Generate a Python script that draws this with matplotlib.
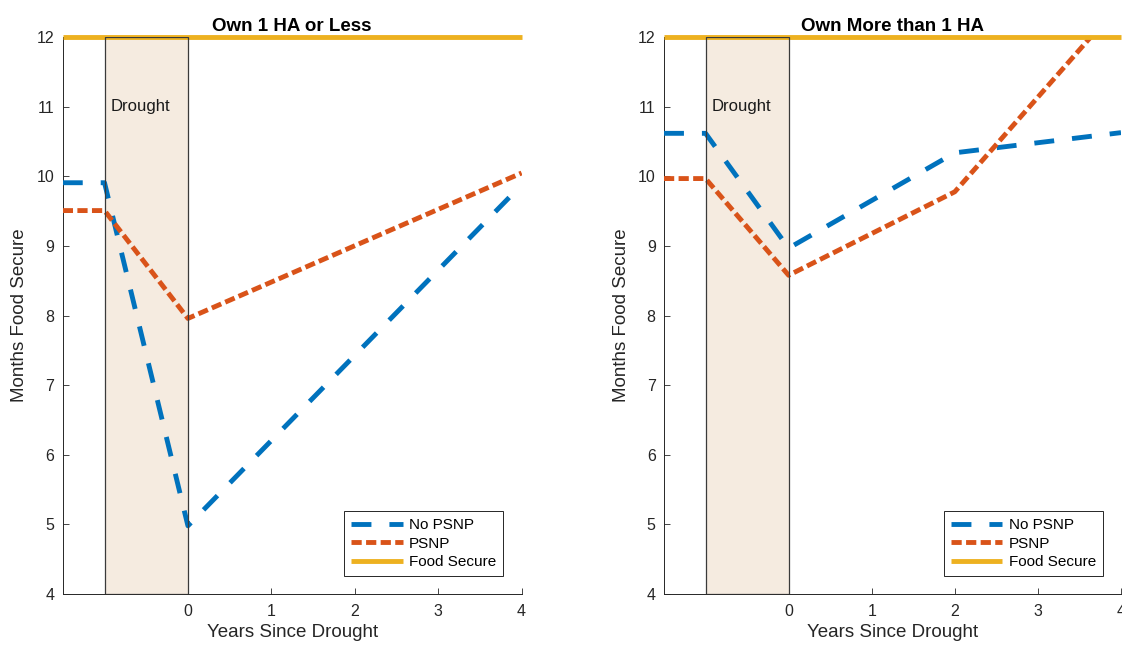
import matplotlib.pyplot as plt

plt.rcParams['font.family'] = ['Liberation Sans', 'DejaVu Sans']

# MATLAB default colours
blue = "#0072BD"
orange = "#D95319"
yellow = "#EDB120"
ink = "#262626"

# data
years_small = [-1.5, -1, 0, 4]
no_psnp_small = [9.91, 9.91, 4.98, 9.88]
psnp_small = [9.51, 9.51, 7.96, 10.05]

years_large = [-1.5, -1, 0, 2, 4]
no_psnp_large = [10.62, 10.62, 8.97, 10.34, 10.63]
psnp_large = [9.97, 9.97, 8.58, 9.78, 12.5]

food_secure = 12
drought_start, drought_end = -1, 0
x_range = [-1.5, 4]
titles = ["Own 1 HA or Less", "Own More than 1 HA"]


def draw(ax, years, no_psnp, psnp, title):
    ax.plot(years, no_psnp, color=blue, lw=3.5, dashes=(4.1, 3.7),
            dash_capstyle="butt", label="No PSNP", zorder=3)
    ax.plot(years, psnp, color=orange, lw=3.5, dashes=(2.1, 0.9),
            dash_capstyle="butt", label="PSNP", zorder=3)
    ax.plot(x_range, [food_secure, food_secure], color=yellow, lw=3.5,
            solid_capstyle="butt", clip_on=False, label="Food Secure",
            zorder=4)

    # shaded drought year: face behind the lines, outline above them
    ax.axvspan(drought_start, drought_end, facecolor="#F5EBE0",
               edgecolor="none", zorder=1)
    ax.axvspan(drought_start, drought_end, facecolor="none",
               edgecolor="#3a3a3a", lw=0.9, zorder=5)
    ax.text(drought_start + 0.07, 11, "Drought", fontsize=12, color="#1a1a1a",
            ha="left", va="center", zorder=6)

    ax.set_xlim(x_range)
    ax.set_ylim(4, 12)
    ax.set_xticks([0, 1, 2, 3, 4])
    ax.set_yticks(range(4, 13))

    for side in ("top", "right"):
        ax.spines[side].set_visible(False)
    for side in ("left", "bottom"):
        ax.spines[side].set_color(ink)
        ax.spines[side].set_linewidth(0.7)
    ax.tick_params(direction="in", length=4, width=0.6, color=ink,
                   labelcolor=ink, labelsize=11.5)
    ax.tick_params(axis="x", pad=7)
    ax.tick_params(axis="y", pad=6)

    ax.set_title(title, fontsize=13.5, fontweight="bold", pad=4.5)
    ax.set_xlabel("Years Since Drought", fontsize=13.5, color=ink, labelpad=4)
    ax.set_ylabel("Months Food Secure", fontsize=13.5, color=ink, labelpad=6)

    leg = ax.legend(loc="lower right", bbox_to_anchor=(0.96, 0.032),
                    borderaxespad=0, fontsize=11, fancybox=False,
                    framealpha=1, edgecolor=ink, handlelength=3.4,
                    handletextpad=0.4, labelspacing=0.3, borderpad=0.45)
    leg.get_frame().set_linewidth(0.7)
    leg.set_zorder(10)


fig = plt.figure(figsize=(11.22, 6.46), dpi=100)
ax1 = fig.add_axes([62.8 / 1122, 52 / 646, 458.8 / 1122, 556.7 / 646])
ax2 = fig.add_axes([664 / 1122, 52 / 646, 457 / 1122, 556.7 / 646])

draw(ax1, years_small, no_psnp_small, psnp_small, titles[0])
draw(ax2, years_large, no_psnp_large, psnp_large, titles[1])

fig.savefig("out.png", dpi=100)
